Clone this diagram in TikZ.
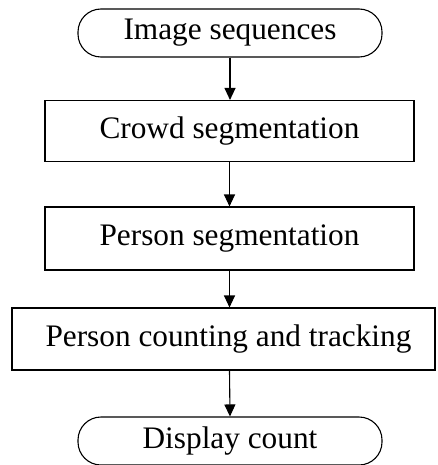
\documentclass[tikz,border=0pt]{standalone}
\usepackage{fontspec}
\setmainfont{Liberation Serif}
\usetikzlibrary{arrows.meta}
\begin{document}
\begin{tikzpicture}[x=1pt,y=-1pt,
  every node/.style={font=\fontsize{31.3}{35}\selectfont, inner sep=0pt, line width=1.1pt},
  terminal/.style={draw, rounded corners=23pt, minimum width=304pt, minimum height=48pt},
  procbox/.style={draw, minimum height=61pt},
  flow/.style={line width=1.1pt, -{Triangle[width=11pt,length=12pt]}}]
\useasboundingbox (0,0) rectangle (437,465);
\node[terminal] (a) at (230,33) {Image sequences};
\node[procbox, minimum width=369pt] (b) at (229.5,131) {Crowd segmentation};
\node[procbox, minimum width=369pt, minimum height=63pt] (c) at (229.5,238.5) {Person segmentation};
\node[procbox, minimum width=423pt, minimum height=62pt] (d) at (223.5,339) {\hspace*{10pt}Person counting and tracking};
\node[terminal] (e) at (230,441) {Display count};
\draw[flow] (a.south) -- (a.south |- b.north);
\draw[flow] (b.south) -- (b.south |- c.north);
\draw[flow] (c.south) -- (c.south |- d.north);
\draw[flow] (c.south |- d.south) -- (e.north);
\end{tikzpicture}
\end{document}
